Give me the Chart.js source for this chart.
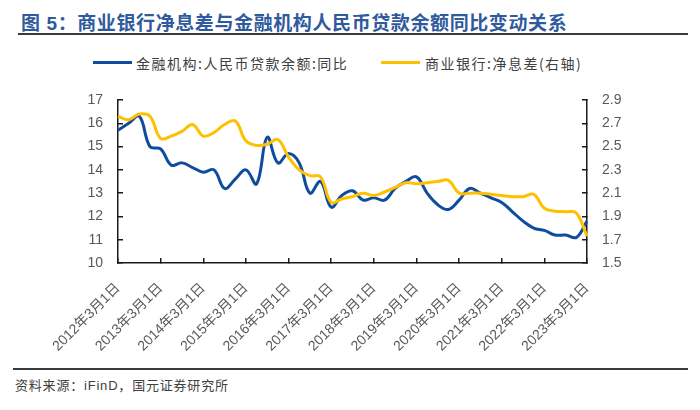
<!DOCTYPE html>
<html>
<head>
<meta charset="utf-8">
<script src="https://cdn.jsdelivr.net/npm/chart.js@4.4.1/dist/chart.umd.min.js"></script>
<style>
  html, body { margin:0; padding:0; background:#fff; }
  body { width:700px; height:410px; position:relative; overflow:hidden; font-family:"Liberation Sans","Noto Sans CJK SC",sans-serif; }
  #title { position:absolute; left:21px; top:8px; font-size:19px; font-weight:bold; color:#2F5A9E; letter-spacing:0.6px; white-space:nowrap; font-family:"Liberation Sans","Noto Sans CJK SC",sans-serif; }
  #tline { position:absolute; left:18px; top:33px; width:670px; height:2px; background:#3a3a3a; }
  #fline { position:absolute; left:13px; top:368px; width:675px; height:2px; background:#3a3a3a; }
  #foot { position:absolute; left:15px; top:375px; font-size:13px; color:#404040; letter-spacing:0.8px; white-space:nowrap; }
  .lg { position:absolute; top:53px; font-size:14px; color:#404040; letter-spacing:1.5px; white-space:nowrap; font-family:"Noto Sans CJK SC",sans-serif; }
  .sw { position:absolute; top:61px; height:3px; }
  #wrap { position:absolute; left:0; top:0; width:700px; height:370px; }
</style>
</head>
<body>
<div id="title">图 5：商业银行净息差与金融机构人民币贷款余额同比变动关系</div>
<div id="tline"></div>
<div class="sw" style="left:93px;width:39px;background:#0F4C9E"></div>
<div class="lg" style="left:136px">金融机构:人民币贷款余额:同比</div>
<div class="sw" style="left:381px;width:39px;background:#FFC000"></div>
<div class="lg" style="left:425px">商业银行:净息差(右轴)</div>
<div id="wrap"><canvas id="c" width="700" height="370"></canvas></div>
<div id="fline"></div>
<div id="foot">资料来源：iFinD，国元证券研究所</div>
<script>
const quarters = [
 '2012-03','2012-06','2012-09','2012-12','2013-03','2013-06','2013-09','2013-12',
 '2014-03','2014-06','2014-09','2014-12','2015-03','2015-06','2015-09','2015-12',
 '2016-03','2016-06','2016-09','2016-12','2017-03','2017-06','2017-09','2017-12',
 '2018-03','2018-06','2018-09','2018-12','2019-03','2019-06','2019-09','2019-12',
 '2020-03','2020-06','2020-09','2020-12','2021-03','2021-06','2021-09','2021-12',
 '2022-03','2022-06','2022-09','2022-12','2023-03'
];
const tickLabels = ['2012年3月1日','2013年3月1日','2014年3月1日','2015年3月1日','2016年3月1日','2017年3月1日',
 '2018年3月1日','2019年3月1日','2020年3月1日','2021年3月1日','2022年3月1日','2023年3月1日'];
const loanGrowth = [
 15.7,16.0,16.3,15.0,14.9,14.2,14.3,14.1,
 13.9,14.0,13.2,13.6,14.0,13.4,15.4,14.3,
 14.7,14.3,13.0,13.5,12.4,12.9,13.1,12.7,
 12.8,12.7,13.2,13.5,13.7,13.0,12.5,12.3,
 12.7,13.2,13.0,12.8,12.6,12.2,11.8,11.5,
 11.4,11.2,11.2,11.1,11.8
];
const netInterestMargin = [
 2.76,2.73,2.78,2.76,2.57,2.59,2.63,2.69,
 2.59,2.62,2.69,2.72,2.55,2.51,2.52,2.56,
 2.41,2.30,2.25,2.24,2.02,2.05,2.07,2.10,
 2.08,2.11,2.15,2.19,2.18,2.19,2.20,2.21,
 2.10,2.10,2.10,2.09,2.08,2.07,2.07,2.09,
 1.97,1.945,1.94,1.93,1.73
];
const seriesNames = ['金融机构:人民币贷款余额:同比','商业银行:净息差(右轴)'];

const tickFont = { family:'"Liberation Sans","Noto Sans CJK SC",sans-serif', size:14 };
const axisColor = '#1a1a1a';

new Chart(document.getElementById('c'), {
  type:'line',
  data:{
    labels: quarters,
    datasets:[
      { label:seriesNames[0], data:loanGrowth, yAxisID:'y', borderColor:'#0F4C9E', borderWidth:3,
        pointRadius:0, tension:0.4, fill:false, order:1 },
      { label:seriesNames[1], data:netInterestMargin, yAxisID:'y1', borderColor:'#FFC000', borderWidth:3,
        pointRadius:0, tension:0.4, fill:false, order:0 }
    ]
  },
  options:{
    responsive:false,
    animation:false,
    layout:{ padding:{ top:100, left:0, right:0, bottom:0 } },
    plugins:{ legend:{ display:false }, tooltip:{ enabled:false } },
    scales:{
      x:{
        type:'category', offset:false,
        border:{ display:true, color:axisColor, width:1.5 },
        grid:{ drawOnChartArea:false, tickLength:-5, color:(ctx)=> (ctx.index % 4 === 0 ? axisColor : 'rgba(0,0,0,0)'), lineWidth:1.5 },
        ticks:{ autoSkip:false, minRotation:45, maxRotation:45, padding:22, color:'#595959', font:tickFont,
          callback:(v, i)=> (i % 4 === 0 ? tickLabels[i/4] : '') },
        afterFit:(s)=>{ s.height = 370 - 263; }
      },
      y:{
        position:'left', min:10, max:17,
        border:{ display:true, color:axisColor, width:1.5 },
        grid:{ drawOnChartArea:false, tickLength:-5, color:axisColor, lineWidth:1.5 },
        ticks:{ stepSize:1, padding:20, color:'#595959', font:tickFont },
        afterFit:(s)=>{ s.width = 118; }
      },
      y1:{
        position:'right', min:1.5, max:2.9,
        border:{ display:true, color:axisColor, width:1.5 },
        grid:{ drawOnChartArea:false, tickLength:-5, color:axisColor, lineWidth:1.5 },
        ticks:{ stepSize:0.2, padding:20, color:'#595959', font:tickFont, callback:(v)=> Number(v).toFixed(1) },
        afterFit:(s)=>{ s.width = 700 - 587; }
      }
    }
  }
});
</script>
</body>
</html>
